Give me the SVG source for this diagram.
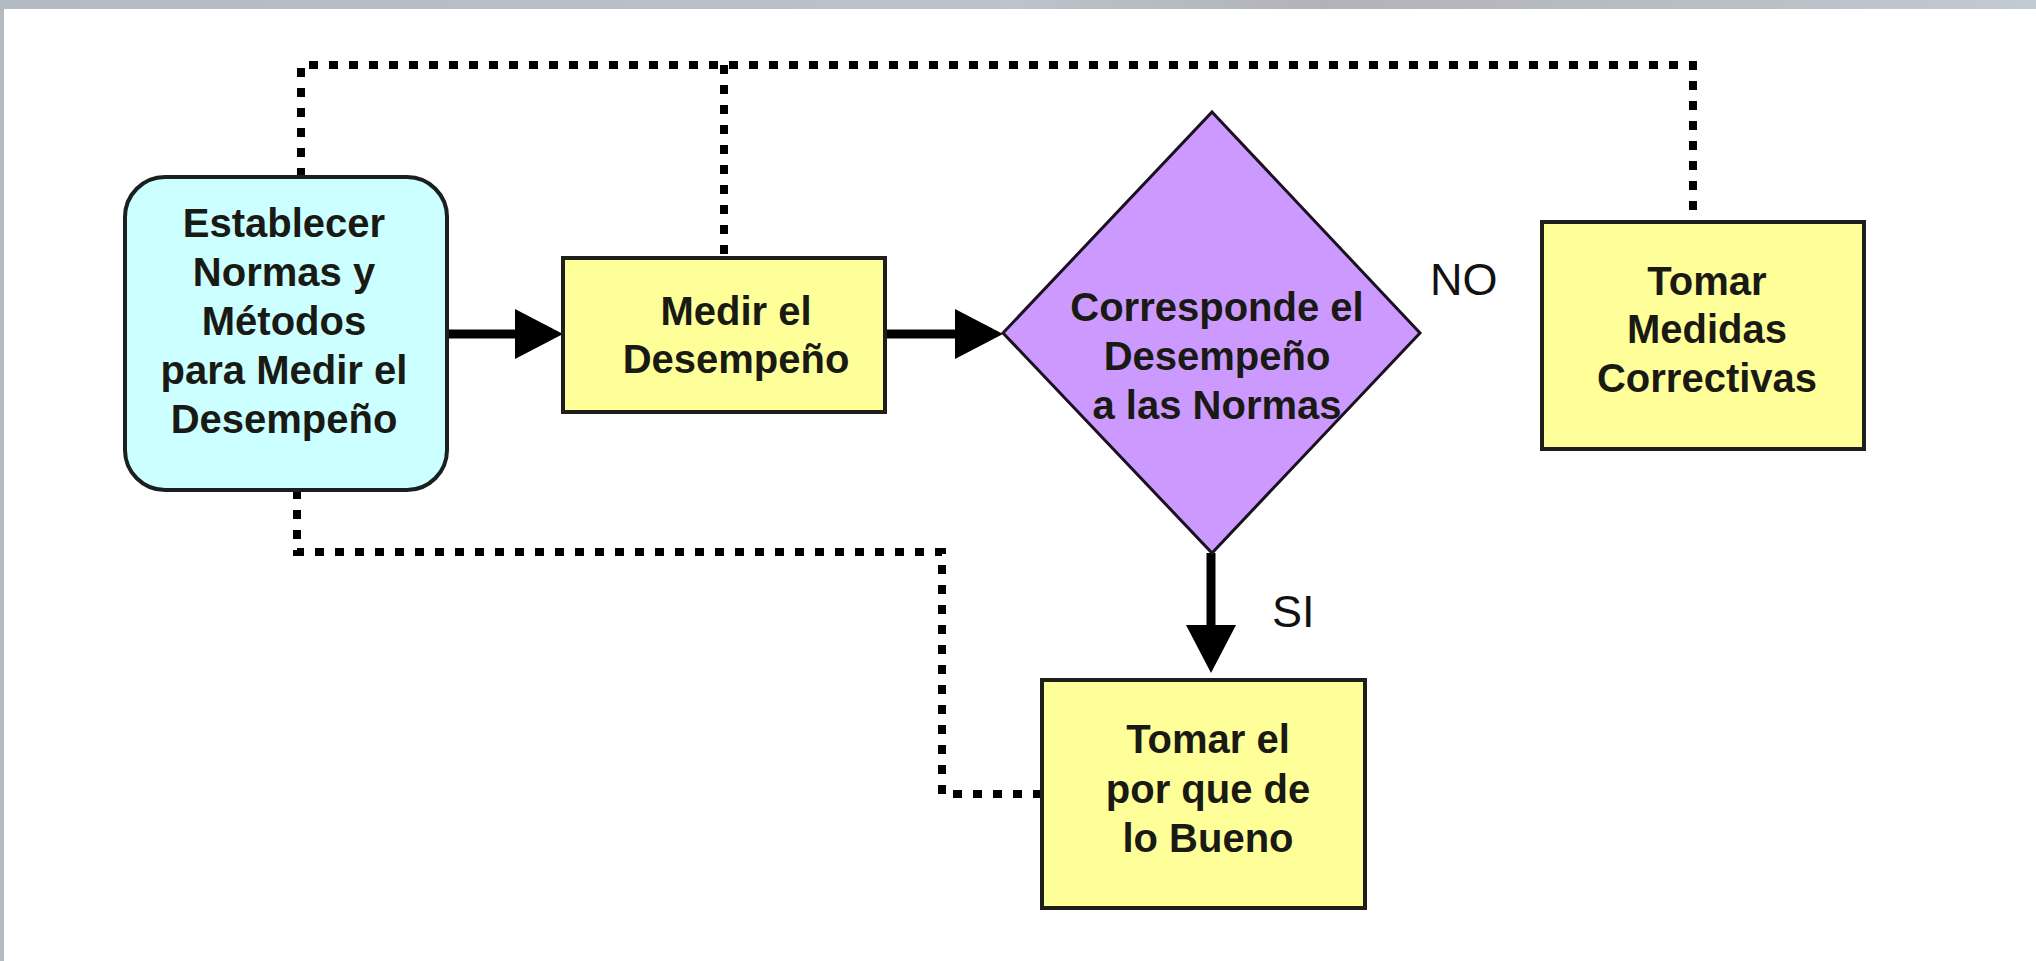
<svg xmlns="http://www.w3.org/2000/svg" width="2036" height="961" viewBox="0 0 2036 961">
  <defs>
    <linearGradient id="bar" x1="0" y1="0" x2="1" y2="0">
      <stop offset="0" stop-color="#b3bac3"/>
      <stop offset="0.5" stop-color="#bcc3ca"/>
      <stop offset="0.65" stop-color="#b2b3b8"/>
      <stop offset="0.85" stop-color="#bbbfc6"/>
      <stop offset="1" stop-color="#c2cad3"/>
    </linearGradient>
    <marker id="head" markerUnits="userSpaceOnUse" markerWidth="50" markerHeight="52" refX="0" refY="25" orient="auto" viewBox="0 0 50 52">
      <path d="M0,0 L48,25 L0,50 Z" fill="#000"/>
    </marker>
    <style>
      .box { fill: #ffff99; stroke: #1e1e1a; stroke-width: 4; }
      .start { fill: #ccffff; stroke: #1a1f1f; stroke-width: 4; }
      .dec { fill: #cc99ff; stroke: #1a1020; stroke-width: 3; }
      .t { font-family: "Liberation Sans", Arial, sans-serif; font-weight: bold; font-size: 40px; text-anchor: middle; fill: #1a1a14; }
      .lbl { font-family: "Liberation Sans", Arial, sans-serif; font-size: 45px; fill: #111; }
      .solid { fill: none; stroke: #000; stroke-width: 9; marker-end: url(#head); }
      .dot { fill: none; stroke: #000; stroke-width: 8; stroke-dasharray: 9 11; }
    </style>
  </defs>
  <rect x="0" y="0" width="2036" height="961" fill="#ffffff"/>
  <rect x="0" y="0" width="2036" height="9" fill="url(#bar)"/>
  <rect x="0" y="0" width="4" height="961" fill="#b4bac2"/>

  <g id="connectors">
    <path class="dot" d="M301,177 L301,65 L1693,65 L1693,222"/>
    <path class="dot" d="M724,65 L724,258"/>
    <path class="dot" d="M297,490 L297,552 L942,552 L942,794 L1042,794"/>
    <path class="solid" d="M447,334 L515,334"/>
    <path class="solid" d="M885,334 L955,334"/>
    <path class="solid" d="M1211,553 L1211,625"/>
  </g>

  <g id="n-establecer">
    <rect class="start" x="125" y="177" width="322" height="313" rx="40" ry="40"/>
    <text class="t" x="284" y="237">Establecer</text>
    <text class="t" x="284" y="286">Normas y</text>
    <text class="t" x="284" y="335">Métodos</text>
    <text class="t" x="284" y="384">para Medir el</text>
    <text class="t" x="284" y="433">Desempeño</text>
  </g>

  <g id="n-medir">
    <rect class="box" x="563" y="258" width="322" height="154"/>
    <text class="t" x="736" y="325">Medir el</text>
    <text class="t" x="736" y="373">Desempeño</text>
  </g>

  <g id="n-decision">
    <polygon class="dec" points="1212,112 1420,333 1212,553 1003,333"/>
    <text class="t" x="1217" y="321">Corresponde el</text>
    <text class="t" x="1217" y="370">Desempeño</text>
    <text class="t" x="1217" y="419">a las Normas</text>
  </g>

  <g id="n-medidas">
    <rect class="box" x="1542" y="222" width="322" height="227"/>
    <text class="t" x="1707" y="295">Tomar</text>
    <text class="t" x="1707" y="343">Medidas</text>
    <text class="t" x="1707" y="392">Correctivas</text>
  </g>

  <g id="n-bueno">
    <rect class="box" x="1042" y="680" width="323" height="228"/>
    <text class="t" x="1208" y="753">Tomar el</text>
    <text class="t" x="1208" y="803">por que de</text>
    <text class="t" x="1208" y="852">lo Bueno</text>
  </g>

  <g id="labels">
    <text class="lbl" x="1430" y="295">NO</text>
    <text class="lbl" x="1272" y="627">SI</text>
  </g>
</svg>
